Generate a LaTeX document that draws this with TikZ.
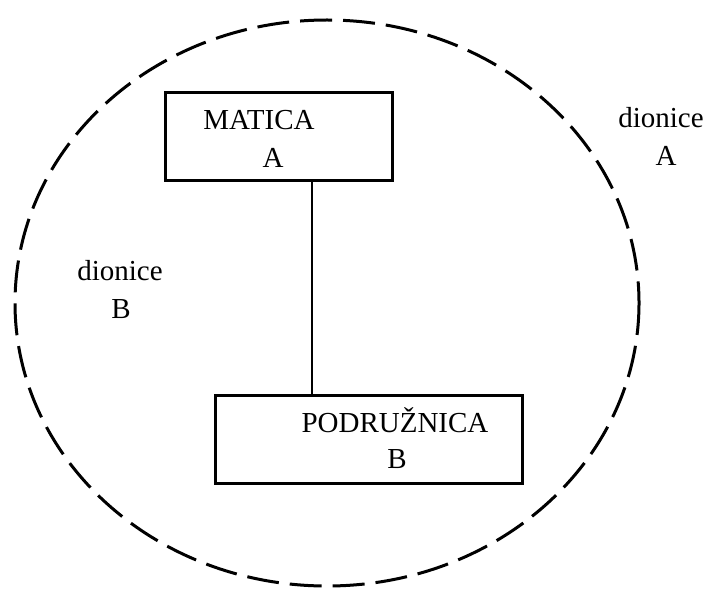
\documentclass[tikz,border=0pt]{standalone}
\usepackage{fontspec}
\setmainfont{Liberation Serif}
\begin{document}
\begin{tikzpicture}[x=0.5pt,y=-0.5pt,
  boxstyle/.style={draw,line width=1.5pt,inner sep=0pt,rectangle},
  txt/.style={anchor=base,inner sep=0pt,font=\fontsize{14.5}{17}\selectfont},
  dashring/.style={line width=1.5pt,dash pattern=on 16pt off 5.5pt},
  conn/.style={line width=1.3pt}]
\useasboundingbox (0,0) rectangle (715,588);
\draw[dashring] (327,303) ellipse [x radius=312, y radius=283];
\node[boxstyle,minimum width=113.5pt,minimum height=43.5pt] (mat) at (278.5,136.5) {};
\node[boxstyle,minimum width=153.5pt,minimum height=44pt] (pod) at (368.5,439) {};
\coordinate (lx) at (312,0);
\draw[conn] (mat.south -| lx) -- (pod.north -| lx);
\node[txt] (t1) at (259,130) {MATICA};
\node[txt] (t2) at (273,168) {A};
\node[txt] (t3) at (395,432) {PODRUŽNICA};
\node[txt] (t4) at (397,468) {B};
\node[txt] (t5) at (661,127) {dionice};
\node[txt] (t6) at (666,165) {A};
\node[txt] (t7) at (120,280) {dionice};
\node[txt] (t8) at (121,318) {B};
\end{tikzpicture}
\end{document}
